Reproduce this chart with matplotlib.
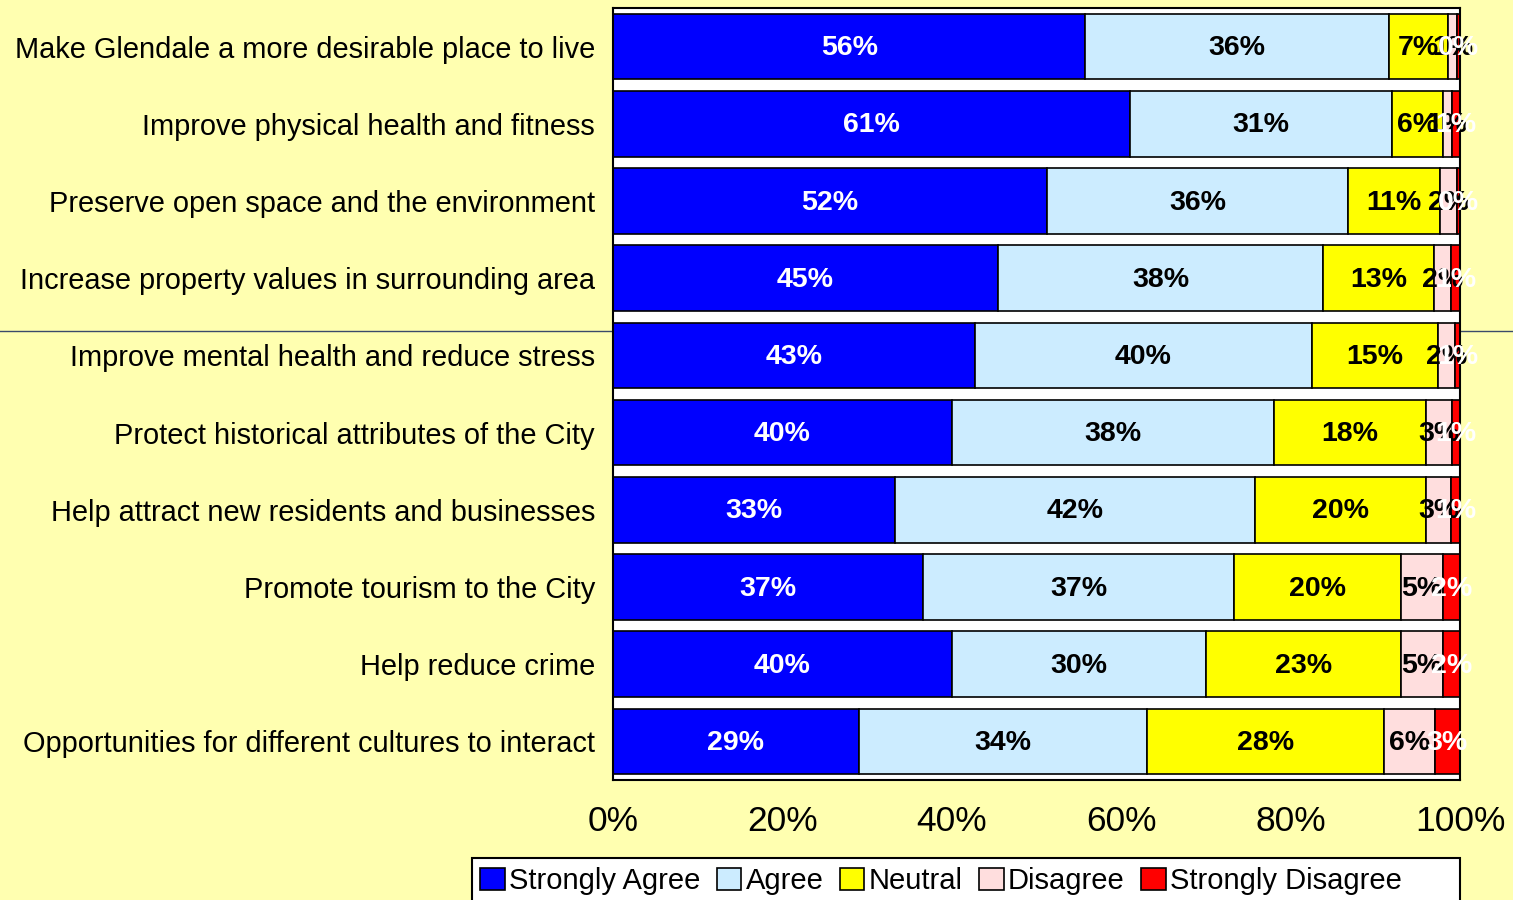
import matplotlib.pyplot as plt
import numpy as np
from matplotlib.lines import Line2D
from matplotlib.patches import Rectangle

plt.rcParams['font.family'] = ['Liberation Sans', 'DejaVu Sans']

categories = [
    "Make Glendale a more desirable place to live",
    "Improve physical health and fitness",
    "Preserve open space and the environment",
    "Increase property values in surrounding area",
    "Improve mental health and reduce stress",
    "Protect historical attributes of the City",
    "Help attract new residents and businesses",
    "Promote tourism to the City",
    "Help reduce crime",
    "Opportunities for different cultures to interact",
]
series = ["Strongly Agree", "Agree", "Neutral", "Disagree", "Strongly Disagree"]
strongly_agree = [56, 61, 52, 45, 43, 40, 33, 37, 40, 29]
agree = [36, 31, 36, 38, 40, 38, 42, 37, 30, 34]
neutral = [7, 6, 11, 13, 15, 18, 20, 20, 23, 28]
disagree = [1, 1, 2, 2, 2, 3, 3, 5, 5, 6]
strongly_disagree = [0.4, 1, 0.4, 1, 0.6, 1, 1, 2, 2, 3]
labels_sd = ["0%", "1%", "0%", "1%", "1%", "1%", "1%", "2%", "2%", "3%"]

colors = ["#0000FF", "#CCECFF", "#FFFF00", "#FFDEDE", "#FF0000"]
text_colors = ["white", "black", "black", "black", "white"]

data = np.array([strongly_agree, agree, neutral, disagree, strongly_disagree], dtype=float)
totals = data.sum(axis=0)
frac = data / totals

fig = plt.figure(figsize=(15.13, 9.0), dpi=100, facecolor="#FFFFB0")
# thin stray line across the page
fig.add_artist(Line2D([0, 1], [1 - 331 / 900, 1 - 331 / 900], transform=fig.transFigure,
                      color="#3A4A6A", lw=1, zorder=0))

ax = fig.add_axes([613 / 1513, 1 - 780 / 900, (1460 - 613) / 1513, 772 / 900])
ax.set_facecolor("white")
ax.set_zorder(2)

y = np.arange(len(categories))
left = np.zeros(len(categories))
handles = []
for i, name in enumerate(series):
    bars = ax.barh(y, frac[i], left=left, height=0.85, color=colors[i],
                   edgecolor="black", linewidth=1.2, label=name)
    handles.append(bars)
    for j in range(len(categories)):
        if i == 4:
            txt = labels_sd[j]
        else:
            txt = f"{int(round(data[i, j]))}%"
        ax.text(left[j] + frac[i, j] / 2, y[j] + 0.02, txt, ha="center", va="center",
                fontsize=20.5, fontweight="bold", color=text_colors[i])
    left += frac[i]

ax.set_xlim(0, 1)
ax.set_ylim(len(categories) - 0.5, -0.5)
ax.set_yticks(y)
ax.set_yticklabels(categories, fontsize=20.9)
ax.set_xticks(np.linspace(0, 1, 6))
ax.set_xticklabels([f"{v}%" for v in range(0, 101, 20)], fontsize=25.5)
ax.tick_params(axis="y", length=0, pad=13)
ax.tick_params(axis="x", length=0, pad=18)
for s in ax.spines.values():
    s.set_color("black")
    s.set_linewidth(1.5)

# legend box (runs off the bottom edge like the original)
fig.add_artist(Rectangle((472 / 1513, 1 - 910 / 900), (1460 - 472) / 1513, 52 / 900,
                         transform=fig.transFigure, facecolor="white",
                         edgecolor="black", lw=1.5, zorder=1))
leg = fig.legend(handles=handles, labels=series, loc="center left",
                 bbox_to_anchor=(480 / 1513, 1 - 881 / 900),
                 ncol=5, fontsize=21, handlelength=0.85, handleheight=0.8,
                 handletextpad=0.15, columnspacing=0.55, borderaxespad=0, borderpad=0,
                 frameon=False)
leg.set_zorder(3)

fig.savefig("out.png", dpi=100, facecolor=fig.get_facecolor())
